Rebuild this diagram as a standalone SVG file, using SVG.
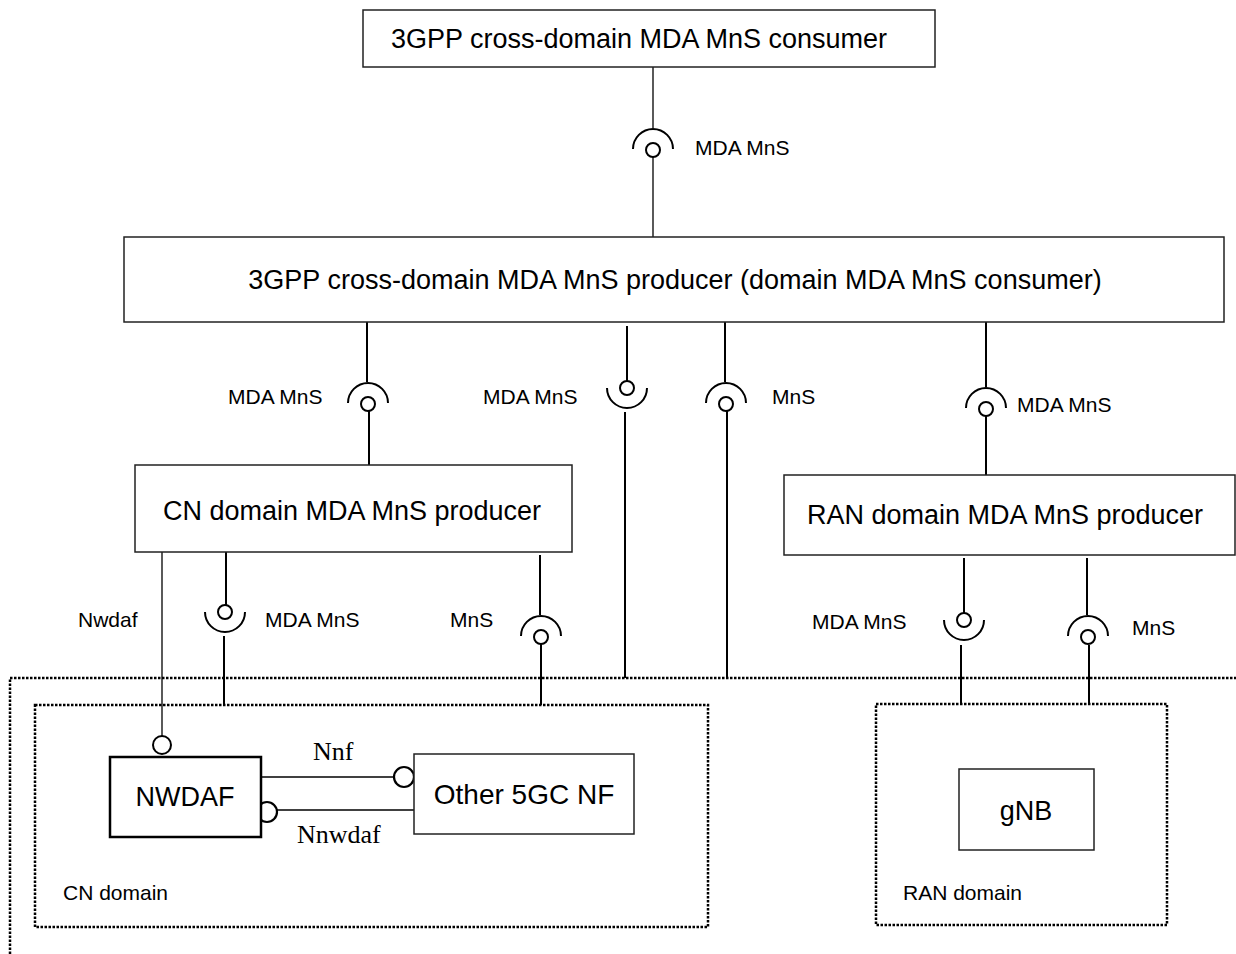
<svg xmlns="http://www.w3.org/2000/svg" xmlns:xlink="http://www.w3.org/1999/xlink" width="1236" height="954" viewBox="0 0 1236 954">
<style>
.box{fill:#fff;stroke:#222;stroke-width:1.5}
.thick{fill:#fff;stroke:#000;stroke-width:2.5}
.dot{fill:none;stroke:#000;stroke-width:2.5;stroke-dasharray:2.5 1.5}
.ln{stroke:#000;stroke-width:2;fill:none}
.thin{stroke:#000;stroke-width:1.3;fill:none}
.big{font-family:"Liberation Sans",Arial,sans-serif;font-size:27px;fill:#000}
.sm{font-family:"Liberation Sans",Arial,sans-serif;font-size:21px;fill:#000}
.ser{font-family:"Liberation Serif","Times New Roman",serif;font-size:26px;fill:#000}
.mid{text-anchor:middle}
</style>
<defs>
<g id="cap"><path d="M -20,-1 A 20 20 0 0 1 20,-1" class="ln"/><circle r="7" cx="0" cy="0" fill="#fff" stroke="#000" stroke-width="2"/></g>
<g id="cup"><path d="M -20,0 A 20 20 0 0 0 20,0" class="ln"/><circle r="7" cx="0" cy="0" fill="#fff" stroke="#000" stroke-width="2"/></g>
</defs>
<g id="domains">
<path class="dot" d="M 10,954 V 678 H 1236"/>
<rect class="dot" x="35" y="705" width="673" height="222"/>
<rect class="dot" x="876" y="704" width="291" height="221"/>
<text class="sm" x="63" y="900">CN domain</text>
<text class="sm" x="903" y="900">RAN domain</text>
</g>
<g id="connectors">
<line class="thin" x1="653" y1="67" x2="653" y2="128"/>
<line class="thin" x1="653" y1="157" x2="653" y2="237"/>
<use xlink:href="#cap" x="653" y="150"/>
<text class="sm" x="695" y="155">MDA MnS</text>
<line class="ln" x1="367" y1="322" x2="367" y2="382"/>
<line class="ln" x1="369" y1="411" x2="369" y2="465"/>
<use xlink:href="#cap" x="368" y="404"/>
<text class="sm" x="228" y="404">MDA MnS</text>
<line class="ln" x1="627" y1="326" x2="627" y2="381"/>
<line class="ln" x1="625" y1="412" x2="625" y2="678"/>
<use xlink:href="#cup" x="627" y="388"/>
<text class="sm" x="483" y="404">MDA MnS</text>
<line class="ln" x1="725" y1="322" x2="725" y2="382"/>
<line class="ln" x1="727" y1="411" x2="727" y2="678"/>
<use xlink:href="#cap" x="726" y="404"/>
<text class="sm" x="772" y="404">MnS</text>
<line class="ln" x1="986" y1="322" x2="986" y2="387"/>
<line class="ln" x1="986" y1="416" x2="986" y2="475"/>
<use xlink:href="#cap" x="986" y="409"/>
<text class="sm" x="1017" y="412">MDA MnS</text>
<line class="thin" x1="162" y1="552" x2="162" y2="736"/>
<circle cx="162" cy="745" r="9" fill="#fff" stroke="#000" stroke-width="2"/>
<text class="sm" x="78" y="627">Nwdaf</text>
<line class="ln" x1="226" y1="547" x2="226" y2="605"/>
<line class="ln" x1="224" y1="636" x2="224" y2="705"/>
<use xlink:href="#cup" x="225" y="612"/>
<text class="sm" x="265" y="627">MDA MnS</text>
<line class="ln" x1="540" y1="555" x2="540" y2="615"/>
<line class="ln" x1="541" y1="644" x2="541" y2="705"/>
<use xlink:href="#cap" x="541" y="637"/>
<text class="sm" x="450" y="627">MnS</text>
<line class="ln" x1="964" y1="558" x2="964" y2="613"/>
<line class="ln" x1="961" y1="645" x2="961" y2="704"/>
<use xlink:href="#cup" x="964" y="620"/>
<text class="sm" x="812" y="629">MDA MnS</text>
<line class="ln" x1="1087" y1="558" x2="1087" y2="615"/>
<line class="ln" x1="1089" y1="645" x2="1089" y2="704"/>
<use xlink:href="#cap" x="1088" y="637"/>
<text class="sm" x="1132" y="635">MnS</text>
<line class="thin" x1="262" y1="777" x2="394" y2="777"/>
<circle cx="404" cy="777" r="10" fill="#fff" stroke="#000" stroke-width="2.2"/>
<text class="ser" x="313" y="760">Nnf</text>
<line class="thin" x1="277" y1="810" x2="414" y2="810"/>
<circle cx="267" cy="812" r="10" fill="#fff" stroke="#000" stroke-width="2.2"/>
<text class="ser" x="297" y="843">Nnwdaf</text>
</g>
<g id="consumer"><rect class="box" x="363" y="10" width="572" height="57"/><text class="big mid" x="639" y="48">3GPP cross-domain MDA MnS consumer</text></g>
<g id="producer"><rect class="box" x="124" y="237" width="1100" height="85"/><text class="big mid" x="675" y="289">3GPP cross-domain MDA MnS producer (domain MDA MnS consumer)</text></g>
<g id="cn-producer"><rect class="box" x="135" y="465" width="437" height="87"/><text class="big mid" x="352" y="520">CN domain MDA MnS producer</text></g>
<g id="ran-producer"><rect class="box" x="784" y="475" width="451" height="80"/><text class="big mid" x="1005" y="524">RAN domain MDA MnS producer</text></g>
<g id="nwdaf"><rect class="thick" x="110" y="757" width="151" height="80"/><text class="big mid" x="185" y="806">NWDAF</text></g>
<g id="other-nf"><rect class="box" x="414" y="754" width="220" height="80"/><text class="big mid" x="524" y="804" style="font-size:28px">Other 5GC NF</text></g>
<g id="gnb"><rect class="box" x="959" y="769" width="135" height="81"/><text class="big mid" x="1026" y="820">gNB</text></g>
</svg>
